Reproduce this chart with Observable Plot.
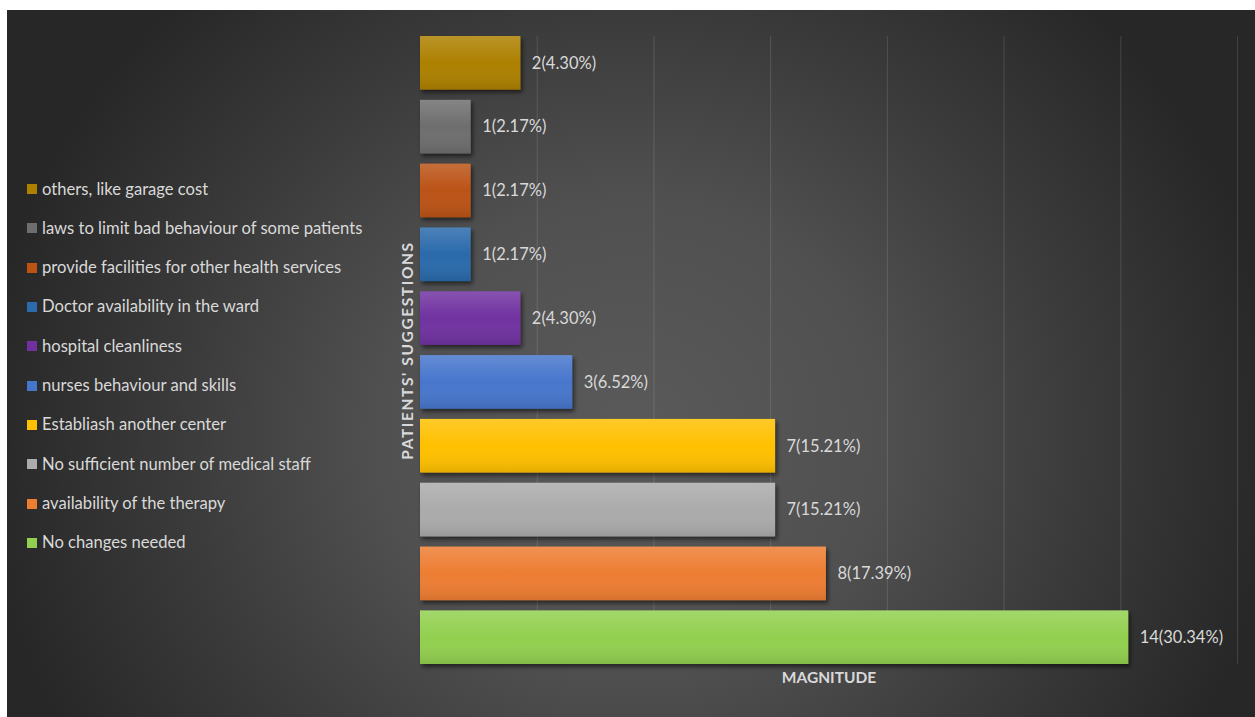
<!DOCTYPE html>
<html>
<head>
<meta charset="utf-8">
<script src="https://cdn.jsdelivr.net/npm/d3@7"></script>
<script src="https://cdn.jsdelivr.net/npm/@observablehq/plot@0.6"></script>
<style>
  html, body { margin: 0; padding: 0; background: #ffffff; }
  body { width: 1255px; height: 717px; position: relative; overflow: hidden; font-family: Lato, "Open Sans", sans-serif; }
  #panel {
    position: absolute; left: 7px; top: 10px; width: 1248px; height: 707px;
    background: radial-gradient(ellipse 58% 95% at 50% 60%, #5a5a5a 0%, #505050 35%, #3b3b3b 62%, #272727 90%);
  }
  #chart { position: absolute; left: 0; top: 0; }
  #legend { position: absolute; left: 20px; top: 159.5px; }
  .item { height: 39.3px; line-height: 39.3px; display: flex; align-items: center; color: #d9d9d9; font-size: 16.6px; white-space: nowrap; }
  .sw { width: 10px; height: 10px; margin-right: 5px; flex: none; }
</style>
</head>
<body>
<div id="panel">
  <div id="chart"></div>
  <div id="legend"></div>
</div>
<script>
const categories = [
  "others, like garage cost",
  "laws to limit bad behaviour of some patients",
  "provide facilities for other health services",
  "Doctor availability in the ward",
  "hospital cleanliness",
  "nurses behaviour and skills",
  "Establiash another center",
  "No sufficient number of medical staff",
  "availability of the therapy",
  "No changes needed"
];
const counts = [2, 1, 1, 1, 2, 3, 7, 7, 8, 14];
const percents = [4.30, 2.17, 2.17, 2.17, 4.30, 6.52, 15.21, 15.21, 17.39, 30.34];
const colors = ["#ad8000", "#6e6e6e", "#bb5312", "#2c6bab", "#7030a0", "#4676cc", "#ffc000", "#ababab", "#ed7d31", "#92d050"];
const gridTicks = [5, 10, 15, 20, 25, 30, 35];
const yTitle = "PATIENTS' SUGGESTIONS";
const xTitle = "MAGNITUDE";

const data = categories.map((c, i) => ({
  cat: c, count: counts[i], pct: percents[i], color: colors[i],
  label: `${counts[i]}(${percents[i].toFixed(2)}%)`
}));

const W = 1248, H = 707;
const plot = Plot.plot({
  width: W, height: H,
  marginLeft: 413, marginRight: 18, marginTop: 26, marginBottom: 53,
  style: { background: "transparent", color: "#d9d9d9", fontFamily: "Lato, 'Open Sans', sans-serif" },
  x: { domain: [0, 35], axis: null },
  y: { domain: categories, axis: null, paddingInner: 0.16, paddingOuter: 0, round: false },
  color: { type: "identity" },
  marks: [
    Plot.ruleX(gridTicks, { stroke: "#ffffff", strokeOpacity: 0.13, strokeWidth: 1 }),
    Plot.barX(data, { x: "pct", y: "cat", fill: "color" }),
    Plot.barX(data, { x: "pct", y: "cat", fill: "url(#shade)" }),
    Plot.text(data, { x: "pct", y: "cat", text: "label", textAnchor: "start", dx: 11, fill: "#d9d9d9", fontSize: 16.5 }),
    Plot.text([yTitle], { frameAnchor: "left", textAnchor: "middle", text: d => d, rotate: -90, dx: -12, fill: "#d9d9d9", fontSize: 15.5, fontWeight: "bold" }),
    Plot.text([xTitle], { frameAnchor: "bottom", textAnchor: "middle", text: d => d, dy: 18, fill: "#d9d9d9", fontSize: 15.5, fontWeight: "bold" })
  ]
});

const svg = d3.select(plot);
const defs = svg.insert("defs", ":first-child");
const lg = defs.append("linearGradient").attr("id", "shade").attr("x1", 0).attr("y1", 0).attr("x2", 0).attr("y2", 1);
lg.append("stop").attr("offset", "0%").attr("stop-color", "#ffffff").attr("stop-opacity", 0.16);
lg.append("stop").attr("offset", "50%").attr("stop-color", "#ffffff").attr("stop-opacity", 0.0);
lg.append("stop").attr("offset", "100%").attr("stop-color", "#000000").attr("stop-opacity", 0.1);
const f = defs.append("filter").attr("id", "shadow").attr("x", "-10%").attr("y", "-20%").attr("width", "130%").attr("height", "160%");
f.append("feDropShadow").attr("dx", 2).attr("dy", 3).attr("stdDeviation", 2.2).attr("flood-color", "#000").attr("flood-opacity", 0.55);
svg.selectAll('g[aria-label="bar"]').filter((d, i) => i === 0).attr("filter", "url(#shadow)");
// widen the rotated axis title a little, as in the original
svg.selectAll('g[aria-label="text"]').filter((d, i) => i === 1).selectAll("text").style("letter-spacing", "1.6px");

document.getElementById("chart").appendChild(plot);

const legend = d3.select("#legend");
categories.forEach((c, i) => {
  const item = legend.append("div").attr("class", "item");
  item.append("div").attr("class", "sw").style("background", colors[i]);
  item.append("span").text(c);
});
</script>
</body>
</html>
